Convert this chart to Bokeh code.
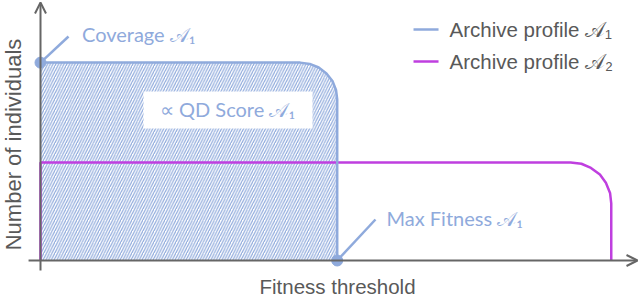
from bokeh.plotting import figure
from bokeh.models import Range1d, Arrow, OpenHead, Label
from bokeh.core.properties import value
from bokeh.embed import file_html
from bokeh.resources import INLINE

# ---- data (normalised fitness threshold vs. number of individuals) ----
fitness_a1 = [0.000, 0.435, 0.451, 0.466, 0.479, 0.489, 0.495, 0.497, 0.497]
count_a1   = [0.767, 0.767, 0.762, 0.748, 0.725, 0.696, 0.661, 0.624, 0.000]
fitness_a2 = [0.000, 0.000, 0.888, 0.906, 0.922, 0.937, 0.947, 0.954, 0.956, 0.956]
count_a2   = [0.000, 0.380, 0.380, 0.375, 0.359, 0.333, 0.301, 0.262, 0.221, 0.000]

coverage_a1 = 0.767
max_fitness_a1 = 0.497

legend_labels = ["Archive profile \U0001D49C\u2081", "Archive profile \U0001D49C\u2082"]
coverage_label = "Coverage \U0001D49C\u2081"
maxfit_label = "Max Fitness \U0001D49C\u2081"
qd_label = "\u221D QD Score \U0001D49C\u2081"
x_title = "Fitness threshold"
y_title = "Number of individuals"

BLUE = "#8FAADC"
MAGENTA = "#BF3FDF"
GRAY = "#666666"
TEXT_GRAY = "#595959"

p = figure(width=640, height=298, x_range=Range1d(-0.0670, 1.0050), y_range=Range1d(-0.1473, 1.0078),
           x_axis_type=None, y_axis_type=None, min_border=0, output_backend="svg",
           toolbar_location=None)
p.grid.visible = False
p.outline_line_color = None
p.background_fill_color = "white"

# hatched QD-score area under profile A1
p.patch([0.0] + fitness_a1, [0.0] + count_a1, fill_alpha=0, line_alpha=0,
        hatch_pattern="/", hatch_color=BLUE, hatch_scale=5.5, hatch_weight=1.2)

# white box behind QD label
p.quad(left=[0.1725], right=[0.4556], bottom=[0.5116], top=[0.655],
       fill_color="white", line_color=None)
p.text(x=[0.3132], y=[0.5853], text=[qd_label], text_font=value("Lato"),
       text_font_size="20px", text_color=BLUE, text_align="center", text_baseline="middle")

# axes with arrows
p.add_layout(Arrow(end=OpenHead(size=11, line_color=GRAY, line_width=2),
                   x_start=-0.020, y_start=0.0, x_end=1.0, y_end=0.0,
                   line_color=GRAY, line_width=2))
p.add_layout(Arrow(end=OpenHead(size=11, line_color=GRAY, line_width=2),
                   x_start=0.0, y_start=-0.0388, x_end=0.0, y_end=1.0,
                   line_color=GRAY, line_width=2))

# profiles
p.line(fitness_a2, count_a2, line_color=MAGENTA, line_width=2.5)
p.line(fitness_a1, count_a1, line_color=BLUE, line_width=2.5)

# annotations
p.line([0.0, 0.0469], [coverage_a1, 0.8682], line_color=BLUE, line_width=2.5)
p.line([max_fitness_a1, 0.5611], [0.0, 0.1589], line_color=BLUE, line_width=2.5)
p.scatter([0.0, max_fitness_a1], [coverage_a1, 0.0], size=11, color=BLUE)

p.text(x=[0.0695], y=[0.8798], text=[coverage_label], text_font=value("Lato"),
       text_font_size="20px", text_color=BLUE, text_align="left", text_baseline="middle")
p.text(x=[0.5796], y=[0.1647], text=[maxfit_label], text_font=value("Lato"),
       text_font_size="20px", text_color=BLUE, text_align="left", text_baseline="middle")

# legend
p.line([0.6248, 0.6667], [0.8953, 0.8953], line_color=BLUE, line_width=2.5)
p.line([0.6248, 0.6667], [0.7713, 0.7713], line_color=MAGENTA, line_width=2.5)
p.text(x=[0.6851, 0.6851], y=[0.8953, 0.7713], text=legend_labels,
       text_font=value("Liberation Sans"), text_font_size="20.5px", text_color=TEXT_GRAY,
       text_align="left", text_baseline="middle")

# axis titles
p.add_layout(Label(x=0.4975, y=-0.1008, text=x_title, text_font="Liberation Sans",
                   text_font_size="20.5px", text_color=TEXT_GRAY, text_align="center",
                   text_baseline="middle"))
p.add_layout(Label(x=-0.0452, y=0.4496, text=y_title, text_font="Liberation Sans",
                   text_font_size="22px", text_color=TEXT_GRAY, text_align="center",
                   text_baseline="middle", angle=1.5708))

open("out.html", "w").write(file_html(p, INLINE))
